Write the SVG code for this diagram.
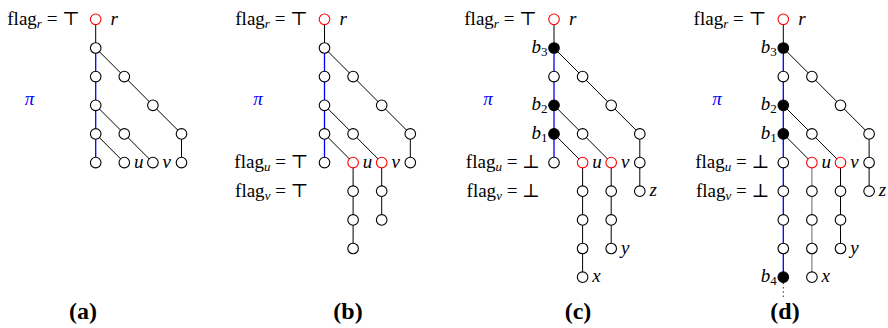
<svg xmlns="http://www.w3.org/2000/svg" width="888" height="328" viewBox="0 0 888 328">
<style>
.n{fill:#fff;stroke:#000;stroke-width:1.1}
.rd{fill:#fff;stroke:#f00;stroke-width:1.1}
.f{fill:#000;stroke:#000;stroke-width:1.1}
.e{stroke:#000;stroke-width:1;fill:none}
.g{stroke:#808080;stroke-width:1.2;fill:none}
.b{stroke:#0000ff;stroke-width:1.3;fill:none}
.d{stroke:#000;stroke-width:1;stroke-dasharray:1.2 3;fill:none}
text{font-family:"Liberation Serif","Times New Roman","DejaVu Serif",serif;font-size:19px;fill:#000}
.i{font-style:italic}
.pi{font-style:italic;fill:#0000ff}
.cap{font-weight:bold;font-size:24px}
.sub{font-size:13px;font-style:italic}
.subn{font-size:13px;font-style:normal}
</style>
<g id="connectors">
<line class="e" x1="95.7" y1="19.3" x2="95.7" y2="48"/>
<line class="b" x1="95.7" y1="48" x2="95.7" y2="162.6"/>
<polyline class="e" points="95.7,48 124.3,76.6 152.9,105.3 181.5,133.9 181.5,162.6"/>
<polyline class="e" points="95.7,105.3 124.3,133.9 152.9,162.6"/>
<line class="e" x1="95.7" y1="133.9" x2="124.3" y2="162.6"/>
<line class="e" x1="324.5" y1="19.3" x2="324.5" y2="48"/>
<line class="b" x1="324.5" y1="48" x2="324.5" y2="162.6"/>
<polyline class="e" points="324.5,48 353.1,76.6 381.7,105.3 410.3,133.9 410.3,162.6"/>
<polyline class="e" points="324.5,105.3 353.1,133.9 381.7,162.6 381.7,219.9"/>
<polyline class="e" points="324.5,133.9 353.1,162.6 353.1,248.5"/>
<line class="e" x1="554" y1="19.3" x2="554" y2="48"/>
<line class="b" x1="554" y1="48" x2="554" y2="162.6"/>
<polyline class="e" points="554,48 582.6,76.6 611.2,105.3 639.8,133.9 639.8,191.2"/>
<polyline class="e" points="554,105.3 582.6,133.9 611.2,162.6 611.2,248.5"/>
<polyline class="e" points="554,133.9 582.6,162.6 582.6,277.2"/>
<line class="e" x1="783.3" y1="19.3" x2="783.3" y2="48"/>
<line class="b" x1="783.3" y1="48" x2="783.3" y2="277.2"/>
<line class="d" x1="783.3" y1="283" x2="783.3" y2="298"/>
<polyline class="e" points="783.3,48 811.9,76.6 840.5,105.3 869.1,133.9 869.1,191.2"/>
<polyline class="e" points="783.3,105.3 811.9,133.9 840.5,162.6 840.5,248.5"/>
<line class="e" x1="783.3" y1="133.9" x2="811.9" y2="162.6"/>
<line class="g" x1="811.9" y1="162.6" x2="811.9" y2="277.2"/>
</g>
<g id="a-r"><circle class="rd" cx="95.7" cy="19.3" r="5.3"/></g>
<g id="a-p1"><circle class="n" cx="95.7" cy="48" r="5.3"/></g>
<g id="a-p2"><circle class="n" cx="95.7" cy="76.6" r="5.3"/></g>
<g id="a-p3"><circle class="n" cx="95.7" cy="105.3" r="5.3"/></g>
<g id="a-p4"><circle class="n" cx="95.7" cy="133.9" r="5.3"/></g>
<g id="a-p5"><circle class="n" cx="95.7" cy="162.6" r="5.3"/></g>
<g id="a-q1"><circle class="n" cx="124.3" cy="76.6" r="5.3"/></g>
<g id="a-q2"><circle class="n" cx="152.9" cy="105.3" r="5.3"/></g>
<g id="a-q3"><circle class="n" cx="181.5" cy="133.9" r="5.3"/></g>
<g id="a-q4"><circle class="n" cx="181.5" cy="162.6" r="5.3"/></g>
<g id="a-s1"><circle class="n" cx="124.3" cy="133.9" r="5.3"/></g>
<g id="a-v"><circle class="n" cx="152.9" cy="162.6" r="5.3"/></g>
<g id="a-u"><circle class="n" cx="124.3" cy="162.6" r="5.3"/></g>
<g id="b-r"><circle class="rd" cx="324.5" cy="19.3" r="5.3"/></g>
<g id="b-p1"><circle class="n" cx="324.5" cy="48" r="5.3"/></g>
<g id="b-p2"><circle class="n" cx="324.5" cy="76.6" r="5.3"/></g>
<g id="b-p3"><circle class="n" cx="324.5" cy="105.3" r="5.3"/></g>
<g id="b-p4"><circle class="n" cx="324.5" cy="133.9" r="5.3"/></g>
<g id="b-p5"><circle class="n" cx="324.5" cy="162.6" r="5.3"/></g>
<g id="b-q1"><circle class="n" cx="353.1" cy="76.6" r="5.3"/></g>
<g id="b-q2"><circle class="n" cx="381.7" cy="105.3" r="5.3"/></g>
<g id="b-q3"><circle class="n" cx="410.3" cy="133.9" r="5.3"/></g>
<g id="b-q4"><circle class="n" cx="410.3" cy="162.6" r="5.3"/></g>
<g id="b-s1"><circle class="n" cx="353.1" cy="133.9" r="5.3"/></g>
<g id="b-v"><circle class="rd" cx="381.7" cy="162.6" r="5.3"/></g>
<g id="b-v1"><circle class="n" cx="381.7" cy="191.2" r="5.3"/></g>
<g id="b-v2"><circle class="n" cx="381.7" cy="219.9" r="5.3"/></g>
<g id="b-u"><circle class="rd" cx="353.1" cy="162.6" r="5.3"/></g>
<g id="b-u1"><circle class="n" cx="353.1" cy="191.2" r="5.3"/></g>
<g id="b-u2"><circle class="n" cx="353.1" cy="219.9" r="5.3"/></g>
<g id="b-u3"><circle class="n" cx="353.1" cy="248.5" r="5.3"/></g>
<g id="c-r"><circle class="rd" cx="554" cy="19.3" r="5.3"/></g>
<g id="c-b3"><circle class="f" cx="554" cy="48" r="5.3"/></g>
<g id="c-p2"><circle class="n" cx="554" cy="76.6" r="5.3"/></g>
<g id="c-b2"><circle class="f" cx="554" cy="105.3" r="5.3"/></g>
<g id="c-b1"><circle class="f" cx="554" cy="133.9" r="5.3"/></g>
<g id="c-p5"><circle class="n" cx="554" cy="162.6" r="5.3"/></g>
<g id="c-q1"><circle class="n" cx="582.6" cy="76.6" r="5.3"/></g>
<g id="c-q2"><circle class="n" cx="611.2" cy="105.3" r="5.3"/></g>
<g id="c-q3"><circle class="n" cx="639.8" cy="133.9" r="5.3"/></g>
<g id="c-q4"><circle class="n" cx="639.8" cy="162.6" r="5.3"/></g>
<g id="c-z"><circle class="n" cx="639.8" cy="191.2" r="5.3"/></g>
<g id="c-s1"><circle class="n" cx="582.6" cy="133.9" r="5.3"/></g>
<g id="c-v"><circle class="rd" cx="611.2" cy="162.6" r="5.3"/></g>
<g id="c-v1"><circle class="n" cx="611.2" cy="191.2" r="5.3"/></g>
<g id="c-v2"><circle class="n" cx="611.2" cy="219.9" r="5.3"/></g>
<g id="c-y"><circle class="n" cx="611.2" cy="248.5" r="5.3"/></g>
<g id="c-u"><circle class="rd" cx="582.6" cy="162.6" r="5.3"/></g>
<g id="c-u1"><circle class="n" cx="582.6" cy="191.2" r="5.3"/></g>
<g id="c-u2"><circle class="n" cx="582.6" cy="219.9" r="5.3"/></g>
<g id="c-u3"><circle class="n" cx="582.6" cy="248.5" r="5.3"/></g>
<g id="c-x"><circle class="n" cx="582.6" cy="277.2" r="5.3"/></g>
<g id="d-r"><circle class="rd" cx="783.3" cy="19.3" r="5.3"/></g>
<g id="d-b3"><circle class="f" cx="783.3" cy="48" r="5.3"/></g>
<g id="d-p2"><circle class="n" cx="783.3" cy="76.6" r="5.3"/></g>
<g id="d-b2"><circle class="f" cx="783.3" cy="105.3" r="5.3"/></g>
<g id="d-b1"><circle class="f" cx="783.3" cy="133.9" r="5.3"/></g>
<g id="d-p5"><circle class="n" cx="783.3" cy="162.6" r="5.3"/></g>
<g id="d-p6"><circle class="n" cx="783.3" cy="191.2" r="5.3"/></g>
<g id="d-p7"><circle class="n" cx="783.3" cy="219.9" r="5.3"/></g>
<g id="d-p8"><circle class="n" cx="783.3" cy="248.5" r="5.3"/></g>
<g id="d-b4"><circle class="f" cx="783.3" cy="277.2" r="5.3"/></g>
<g id="d-q1"><circle class="n" cx="811.9" cy="76.6" r="5.3"/></g>
<g id="d-q2"><circle class="n" cx="840.5" cy="105.3" r="5.3"/></g>
<g id="d-q3"><circle class="n" cx="869.1" cy="133.9" r="5.3"/></g>
<g id="d-q4"><circle class="n" cx="869.1" cy="162.6" r="5.3"/></g>
<g id="d-z"><circle class="n" cx="869.1" cy="191.2" r="5.3"/></g>
<g id="d-s1"><circle class="n" cx="811.9" cy="133.9" r="5.3"/></g>
<g id="d-v"><circle class="rd" cx="840.5" cy="162.6" r="5.3"/></g>
<g id="d-v1"><circle class="n" cx="840.5" cy="191.2" r="5.3"/></g>
<g id="d-v2"><circle class="n" cx="840.5" cy="219.9" r="5.3"/></g>
<g id="d-y"><circle class="n" cx="840.5" cy="248.5" r="5.3"/></g>
<g id="d-u"><circle class="rd" cx="811.9" cy="162.6" r="5.3"/></g>
<g id="d-u1"><circle class="n" cx="811.9" cy="191.2" r="5.3"/></g>
<g id="d-u2"><circle class="n" cx="811.9" cy="219.9" r="5.3"/></g>
<g id="d-u3"><circle class="n" cx="811.9" cy="248.5" r="5.3"/></g>
<g id="d-x"><circle class="n" cx="811.9" cy="277.2" r="5.3"/></g>
<g id="labels">
<text x="80" y="25" text-anchor="end">flag<tspan class="sub" dy="3">r</tspan><tspan dy="-3"> = ⊤</tspan></text>
<text x="308" y="25" text-anchor="end">flag<tspan class="sub" dy="3">r</tspan><tspan dy="-3"> = ⊤</tspan></text>
<text x="537" y="25" text-anchor="end">flag<tspan class="sub" dy="3">r</tspan><tspan dy="-3"> = ⊤</tspan></text>
<text x="766.3" y="25" text-anchor="end">flag<tspan class="sub" dy="3">r</tspan><tspan dy="-3"> = ⊤</tspan></text>
<text x="308.5" y="168" text-anchor="end">flag<tspan class="sub" dy="3">u</tspan><tspan dy="-3"> = ⊤</tspan></text>
<text x="308.5" y="196.6" text-anchor="end">flag<tspan class="sub" dy="3">v</tspan><tspan dy="-3"> = ⊤</tspan></text>
<text x="540" y="168" text-anchor="end">flag<tspan class="sub" dy="3">u</tspan><tspan dy="-3"> = ⊥</tspan></text>
<text x="540" y="196.6" text-anchor="end">flag<tspan class="sub" dy="3">v</tspan><tspan dy="-3"> = ⊥</tspan></text>
<text x="769.3" y="168" text-anchor="end">flag<tspan class="sub" dy="3">u</tspan><tspan dy="-3"> = ⊥</tspan></text>
<text x="769.3" y="196.6" text-anchor="end">flag<tspan class="sub" dy="3">v</tspan><tspan dy="-3"> = ⊥</tspan></text>
<text class="pi" x="29.5" y="105" text-anchor="middle">π</text>
<text class="pi" x="258" y="105" text-anchor="middle">π</text>
<text class="pi" x="488" y="105" text-anchor="middle">π</text>
<text class="pi" x="717" y="105" text-anchor="middle">π</text>
<text class="i" x="110.5" y="25">r</text>
<text class="i" x="339.5" y="25">r</text>
<text class="i" x="569" y="25">r</text>
<text class="i" x="798.3" y="25">r</text>
<text class="i" x="134" y="167.5">u</text>
<text class="i" x="162.5" y="167.5">v</text>
<text class="i" x="362.8" y="167.5">u</text>
<text class="i" x="391.4" y="167.5">v</text>
<text class="i" x="592.3" y="167.5">u</text>
<text class="i" x="620.9" y="167.5">v</text>
<text class="i" x="821.6" y="167.5">u</text>
<text class="i" x="850.2" y="167.5">v</text>
<text class="i" x="649.5" y="196">z</text>
<text class="i" x="620.9" y="253.5">y</text>
<text class="i" x="592.3" y="282">x</text>
<text class="i" x="878.8" y="196">z</text>
<text class="i" x="850.2" y="253.5">y</text>
<text class="i" x="821.6" y="282">x</text>
<text class="i" x="547.5" y="53" text-anchor="end">b<tspan class="subn" dy="3">3</tspan></text>
<text class="i" x="547.5" y="110.3" text-anchor="end">b<tspan class="subn" dy="3">2</tspan></text>
<text class="i" x="547.5" y="138.9" text-anchor="end">b<tspan class="subn" dy="3">1</tspan></text>
<text class="i" x="776.8" y="53" text-anchor="end">b<tspan class="subn" dy="3">3</tspan></text>
<text class="i" x="776.8" y="110.3" text-anchor="end">b<tspan class="subn" dy="3">2</tspan></text>
<text class="i" x="776.8" y="138.9" text-anchor="end">b<tspan class="subn" dy="3">1</tspan></text>
<text class="i" x="776.8" y="282.2" text-anchor="end">b<tspan class="subn" dy="3">4</tspan></text>
<text class="cap" x="83" y="319" text-anchor="middle">(a)</text>
<text class="cap" x="348" y="319" text-anchor="middle">(b)</text>
<text class="cap" x="578" y="319" text-anchor="middle">(c)</text>
<text class="cap" x="785" y="319" text-anchor="middle">(d)</text>
</g>
</svg>
